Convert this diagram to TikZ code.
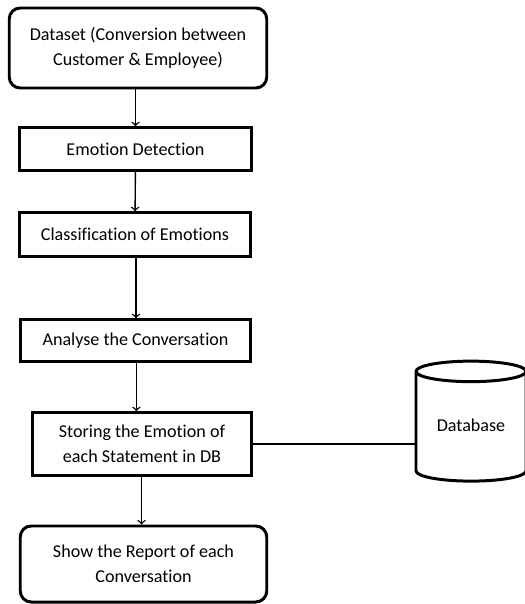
\documentclass[tikz,border=0pt]{standalone}
\usepackage{fontspec}
\setmainfont{Carlito}[RawFeature=-liga]
\usetikzlibrary{shapes.geometric}

\begin{document}
\begin{tikzpicture}[scale=0.2]
\tikzstyle{every node}+=[inner sep=0pt, font=\fontsize{10.3}{14.5}\selectfont]
\tikzstyle{stepbox}=[draw=black, line width=1.7pt, align=center]
\tikzstyle{endbox}=[stepbox, rounded corners=0.22cm]
\tikzstyle{flow}=[black, line width=0.8pt, ->]
\useasboundingbox (0,0) rectangle (52.4,-60.4);
\node [endbox, minimum width=5.15cm, minimum height=1.6cm] (data) at (13.8,-4.8) {Dataset (Conversion between\\Customer \& Employee)};
\node [stepbox, minimum width=4.65cm, minimum height=0.85cm] (emo) at (13.55,-14.9) {Emotion Detection};
\node [stepbox, minimum width=4.63cm, minimum height=0.87cm] (cls) at (13.5,-23.45) {Classification of Emotions};
\node [stepbox, minimum width=4.61cm, minimum height=0.83cm] (ana) at (13.55,-34.05) {Analyse the Conversation};
\node [stepbox, minimum width=4.39cm, minimum height=1.25cm] (sto) at (14.2,-44.4) {Storing the Emotion of\\each Statement in DB};
\node [endbox, minimum width=4.93cm, minimum height=1.52cm] (rep) at (14.35,-56.4) {Show the Report of each\\Conversation};
\node [cylinder, shape border rotate=90, aspect=0.3, draw=black, line width=1.7pt,
  minimum width=2.2cm, minimum height=2.4cm] (db) at (47.1,-42.7) {\raisebox{2.6pt}{Database}};
\draw [flow] (data.south -| emo.north) -- (emo.north);
\draw [flow] (emo) -- (cls);
\draw [flow] ([xshift=0.1cm]cls.south) -- ([xshift=0.1cm]cls.south |- ana.north);
\draw [flow] ([xshift=0.09cm]ana.south) -- ([xshift=0.09cm]ana.south |- sto.north);
\draw [flow] ([xshift=-0.04cm]sto.south) -- ([xshift=-0.04cm]sto.south |- rep.north);
\draw [black, line width=0.8pt] (sto.east) -- (sto.east -| db.west);
\end{tikzpicture}
\end{document}
